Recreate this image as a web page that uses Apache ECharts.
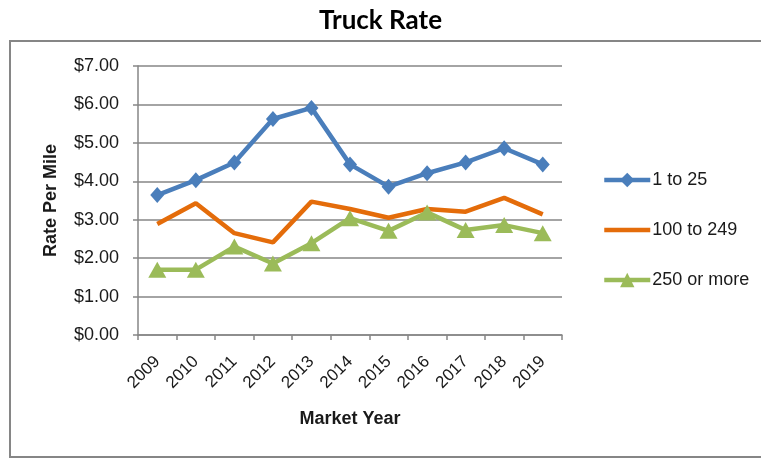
<!DOCTYPE html>
<html><head><meta charset="utf-8">
<script src="https://cdn.jsdelivr.net/npm/echarts@6/dist/echarts.min.js"></script>
<style>html,body{margin:0;padding:0;background:#fff}#c{width:761px;height:459px}</style>
</head><body><div id="c"></div>
<script>
const years = ['2009','2010','2011','2012','2013','2014','2015','2016','2017','2018','2019'];
const rate1to25 = [3.64,4.03,4.49,5.62,5.91,4.44,3.86,4.21,4.49,4.86,4.44];
const rate100to249 = [2.89,3.43,2.65,2.41,3.47,3.28,3.05,3.28,3.21,3.57,3.14];
const rate250plus = [1.70,1.70,2.30,1.86,2.39,3.04,2.71,3.19,2.73,2.86,2.65];
const seriesNames = ['1 to 25','100 to 249','250 or more'];

const chart = echarts.init(document.getElementById('c'), null, {renderer:'canvas'});
const font = 'Liberation Sans, Arial, sans-serif';
const txt = '#1a1a1a';
chart.setOption({
  animation:false,
  backgroundColor:'#fff',
  title:{text:'Truck Rate', left:'center', top:3,
    textStyle:{fontFamily:'Lato, sans-serif', fontWeight:'bold', fontSize:26, color:'#000'}},
  graphic:[{type:'rect', shape:{x:10,y:41,width:760,height:416},
    style:{fill:'none', stroke:'#868686', lineWidth:2}}],
  grid:{left:138, top:66, width:424, height:269, containLabel:false},
  legend:{orient:'vertical', left:597, top:166, itemGap:32, itemWidth:46, itemHeight:18,
    lineStyle:{width:4.5},
    data:[
      {name:seriesNames[0]},
      {name:seriesNames[1], itemStyle:{color:'rgba(0,0,0,0)', opacity:0, borderWidth:0}},
      {name:seriesNames[2]}
    ],
    textStyle:{fontFamily:font, fontSize:18, color:txt, padding:[0,0,0,-3]}},
  xAxis:{type:'category', data:years, boundaryGap:true,
    name:'Market Year', nameLocation:'middle', nameGap:75,
    nameTextStyle:{fontFamily:font, fontWeight:'bold', fontSize:18, color:txt},
    axisLine:{lineStyle:{color:'#868686', width:1.5}},
    axisTick:{show:true, length:5, alignWithLabel:false, lineStyle:{color:'#868686', width:1.5}},
    axisLabel:{rotate:45, fontFamily:font, fontSize:17, color:txt, margin:24, interval:0}},
  yAxis:{type:'value', min:0, max:7, interval:1,
    name:'Rate Per Mile', nameLocation:'middle', nameGap:78, nameRotate:90,
    nameTextStyle:{fontFamily:font, fontWeight:'bold', fontSize:18, color:txt},
    axisLine:{show:true, lineStyle:{color:'#868686', width:1.5}},
    axisTick:{show:true, length:5, lineStyle:{color:'#868686', width:1.5}},
    axisLabel:{fontFamily:font, fontSize:18, color:txt, margin:19,
      formatter:v=>'$'+v.toFixed(2)},
    splitLine:{lineStyle:{color:'#868686', width:1.5}}},
  series:[
    {name:seriesNames[0], type:'line', data:rate1to25, symbol:'diamond', symbolSize:[14,16],
      lineStyle:{color:'#4a7ebb', width:4.5}, itemStyle:{color:'#4a7ebb'}},
    {name:seriesNames[1], type:'line', data:rate100to249, symbol:'none', showSymbol:false,
      lineStyle:{color:'#e46c0a', width:4.5}, itemStyle:{color:'#e46c0a'}},
    {name:seriesNames[2], type:'line', data:rate250plus, symbol:'triangle', symbolSize:[18,16],
      lineStyle:{color:'#9bbb59', width:4.5}, itemStyle:{color:'#9bbb59'}}
  ]
});
</script></body></html>
